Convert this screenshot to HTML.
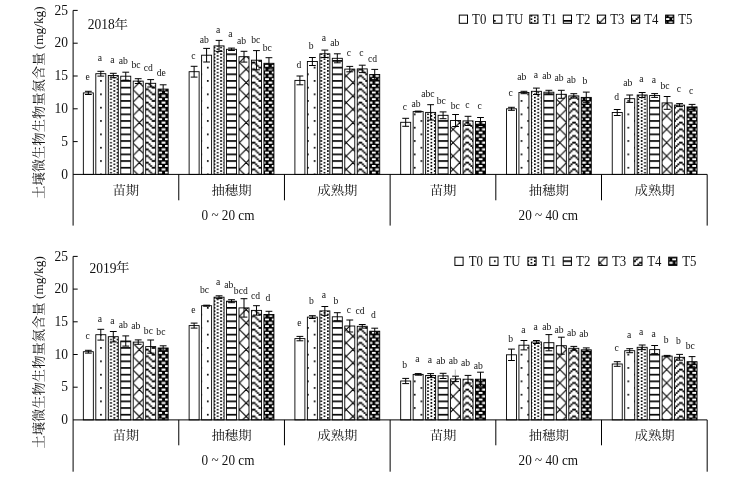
<!DOCTYPE html>
<html lang="zh"><head><meta charset="utf-8"><title>土壤微生物生物量氮含量</title>
<style>html,body{margin:0;padding:0;background:#fff}svg{display:block}text{font-family:"Liberation Serif","Noto Serif CJK SC",serif;fill:#111}.cj{font-family:"Liberation Serif","Noto Serif CJK SC",serif}</style></head><body>
<svg width="744" height="477" viewBox="0 0 744 477">
<rect width="744" height="477" fill="#fff"/>
<defs>
<pattern id="p1" patternUnits="userSpaceOnUse" width="13.35" height="13.35"><rect width="13.35" height="13.35" fill="#fff"/>
<rect x="6.675" y="0" width="1.669" height="1.669" fill="#000"/>
<rect x="0" y="6.675" width="1.669" height="1.669" fill="#000"/>
</pattern>
<pattern id="p2" patternUnits="userSpaceOnUse" width="6.675" height="3.337"><rect width="6.675" height="3.337" fill="#fff"/>
<rect x="0" y="0" width="1.669" height="1.669" fill="#000"/>
<rect x="3.337" y="1.669" width="1.669" height="1.669" fill="#000"/>
</pattern>
<pattern id="p3" patternUnits="userSpaceOnUse" width="13.35" height="6.675"><rect width="13.35" height="6.675" fill="#fff"/>
<rect x="0" y="0" width="13.35" height="1.669" fill="#000"/>
</pattern>
<pattern id="p4" patternUnits="userSpaceOnUse" width="13.35" height="13.35"><rect width="13.35" height="13.35" fill="#fff"/>
<path d="M-2 8.012L15.35 25.362M-2 -5.338L15.35 12.012M-2 -18.688L15.35 -1.338M-2 10.344L15.35 -7.006M-2 23.694L15.35 6.344M-2 37.044L15.35 19.694" stroke="#000" stroke-width="1.15" fill="none"/>
</pattern>
<pattern id="p5" patternUnits="userSpaceOnUse" width="13.35" height="6.675"><rect width="13.35" height="6.675" fill="#fff"/>
<rect x="11.541" y="1.589" width="1.949" height="1.829" fill="#000"/>
<rect x="-0.14" y="1.589" width="1.949" height="1.829" fill="#000"/>
<rect x="1.529" y="3.257" width="1.949" height="1.829" fill="#000"/>
<rect x="9.872" y="3.257" width="1.949" height="1.829" fill="#000"/>
<rect x="3.197" y="4.926" width="1.949" height="1.829" fill="#000"/>
<rect x="8.204" y="4.926" width="1.949" height="1.829" fill="#000"/>
<rect x="4.866" y="-0.08" width="1.949" height="1.829" fill="#000"/>
<rect x="6.535" y="-0.08" width="1.949" height="1.829" fill="#000"/>
<rect x="4.866" y="6.595" width="1.949" height="1.829" fill="#000"/>
<rect x="6.535" y="6.595" width="1.949" height="1.829" fill="#000"/>
<rect x="-1.809" y="1.589" width="1.949" height="1.829" fill="#000"/>
<rect x="13.21" y="1.589" width="1.949" height="1.829" fill="#000"/>
</pattern>
<pattern id="p6" patternUnits="userSpaceOnUse" width="6.675" height="6.675"><rect width="6.675" height="6.675" fill="#000"/>
<rect x="1.419" y="1.469" width="3.837" height="2.069" fill="#fff"/>
<rect x="4.756" y="4.806" width="1.919" height="2.069" fill="#fff"/>
<rect x="0" y="4.806" width="1.919" height="2.069" fill="#fff"/>
</pattern>
</defs>
<g>
<rect x="83.34" y="92.9" width="10" height="81.5" fill="#fff" stroke="#000" stroke-width="0.9"/>
<rect x="95.81" y="73.7" width="10" height="100.7" fill="url(#p1)" stroke="#000" stroke-width="0.9"/>
<rect x="108.28" y="75.5" width="10" height="98.9" fill="url(#p2)" stroke="#000" stroke-width="0.9"/>
<rect x="120.75" y="76.2" width="10" height="98.2" fill="url(#p3)" stroke="#000" stroke-width="0.9"/>
<rect x="133.22" y="81.1" width="10" height="93.3" fill="url(#p4)" stroke="#000" stroke-width="0.9"/>
<rect x="145.69" y="83.3" width="10" height="91.1" fill="url(#p5)" stroke="#000" stroke-width="0.9"/>
<rect x="158.16" y="89.1" width="10" height="85.3" fill="url(#p6)" stroke="#000" stroke-width="0.9"/>
<rect x="189.12" y="71.7" width="10" height="102.7" fill="#fff" stroke="#000" stroke-width="0.9"/>
<rect x="201.59" y="55.2" width="10" height="119.2" fill="url(#p1)" stroke="#000" stroke-width="0.9"/>
<rect x="214.06" y="45.9" width="10" height="128.5" fill="url(#p2)" stroke="#000" stroke-width="0.9"/>
<rect x="226.53" y="49.3" width="10" height="125.1" fill="url(#p3)" stroke="#000" stroke-width="0.9"/>
<rect x="239" y="56.7" width="10" height="117.7" fill="url(#p4)" stroke="#000" stroke-width="0.9"/>
<rect x="251.47" y="60.2" width="10" height="114.2" fill="url(#p5)" stroke="#000" stroke-width="0.9"/>
<rect x="263.94" y="63.3" width="10" height="111.1" fill="url(#p6)" stroke="#000" stroke-width="0.9"/>
<rect x="294.9" y="80.4" width="10" height="94" fill="#fff" stroke="#000" stroke-width="0.9"/>
<rect x="307.37" y="61.5" width="10" height="112.9" fill="url(#p1)" stroke="#000" stroke-width="0.9"/>
<rect x="319.84" y="53.8" width="10" height="120.6" fill="url(#p2)" stroke="#000" stroke-width="0.9"/>
<rect x="332.31" y="58.3" width="10" height="116.1" fill="url(#p3)" stroke="#000" stroke-width="0.9"/>
<rect x="344.78" y="69.1" width="10" height="105.3" fill="url(#p4)" stroke="#000" stroke-width="0.9"/>
<rect x="357.25" y="68.9" width="10" height="105.5" fill="url(#p5)" stroke="#000" stroke-width="0.9"/>
<rect x="369.72" y="74.5" width="10" height="99.9" fill="url(#p6)" stroke="#000" stroke-width="0.9"/>
<rect x="400.68" y="122.3" width="10" height="52.1" fill="#fff" stroke="#000" stroke-width="0.9"/>
<rect x="413.15" y="111.6" width="10" height="62.8" fill="url(#p1)" stroke="#000" stroke-width="0.9"/>
<rect x="425.62" y="112.4" width="10" height="62" fill="url(#p2)" stroke="#000" stroke-width="0.9"/>
<rect x="438.09" y="115.3" width="10" height="59.1" fill="url(#p3)" stroke="#000" stroke-width="0.9"/>
<rect x="450.56" y="120.5" width="10" height="53.9" fill="url(#p4)" stroke="#000" stroke-width="0.9"/>
<rect x="463.03" y="120.9" width="10" height="53.5" fill="url(#p5)" stroke="#000" stroke-width="0.9"/>
<rect x="475.5" y="121.5" width="10" height="52.9" fill="url(#p6)" stroke="#000" stroke-width="0.9"/>
<rect x="506.46" y="108.8" width="10" height="65.6" fill="#fff" stroke="#000" stroke-width="0.9"/>
<rect x="518.93" y="92.5" width="10" height="81.9" fill="url(#p1)" stroke="#000" stroke-width="0.9"/>
<rect x="531.4" y="91.3" width="10" height="83.1" fill="url(#p2)" stroke="#000" stroke-width="0.9"/>
<rect x="543.87" y="92.2" width="10" height="82.2" fill="url(#p3)" stroke="#000" stroke-width="0.9"/>
<rect x="556.34" y="94.3" width="10" height="80.1" fill="url(#p4)" stroke="#000" stroke-width="0.9"/>
<rect x="568.81" y="95.9" width="10" height="78.5" fill="url(#p5)" stroke="#000" stroke-width="0.9"/>
<rect x="581.28" y="97.4" width="10" height="77" fill="url(#p6)" stroke="#000" stroke-width="0.9"/>
<rect x="612.24" y="112.5" width="10" height="61.9" fill="#fff" stroke="#000" stroke-width="0.9"/>
<rect x="624.71" y="98.7" width="10" height="75.7" fill="url(#p1)" stroke="#000" stroke-width="0.9"/>
<rect x="637.18" y="95" width="10" height="79.4" fill="url(#p2)" stroke="#000" stroke-width="0.9"/>
<rect x="649.65" y="95.5" width="10" height="78.9" fill="url(#p3)" stroke="#000" stroke-width="0.9"/>
<rect x="662.12" y="102.9" width="10" height="71.5" fill="url(#p4)" stroke="#000" stroke-width="0.9"/>
<rect x="674.59" y="105.1" width="10" height="69.3" fill="url(#p5)" stroke="#000" stroke-width="0.9"/>
<rect x="687.06" y="106.9" width="10" height="67.5" fill="url(#p6)" stroke="#000" stroke-width="0.9"/>
<path d="M88.34 91.3V94.5M84.94 91.3H91.74M84.94 94.5H91.74M100.81 71.3V76.1M97.41 71.3H104.21M97.41 76.1H104.21M113.28 73.3V77.7M109.88 73.3H116.68M109.88 77.7H116.68M125.75 72.2V80.2M122.35 72.2H129.15M122.35 80.2H129.15M138.22 78.7V83.5M134.82 78.7H141.62M134.82 83.5H141.62M150.69 79.6V87M147.29 79.6H154.09M147.29 87H154.09M163.16 84.8V93.4M159.76 84.8H166.56M159.76 93.4H166.56M194.12 66.3V77.1M190.72 66.3H197.52M190.72 77.1H197.52M206.59 48.4V62M203.19 48.4H209.99M203.19 62H209.99M219.06 40.4V51.4M215.66 40.4H222.46M215.66 51.4H222.46M231.53 48.1V50.5M228.13 48.1H234.93M228.13 50.5H234.93M244 51.3V62.1M240.6 51.3H247.4M240.6 62.1H247.4M256.47 50.6V69.8M253.07 50.6H259.87M253.07 69.8H259.87M268.94 57.7V68.9M265.54 57.7H272.34M265.54 68.9H272.34M299.9 76V84.8M296.5 76H303.3M296.5 84.8H303.3M312.37 57.5V65.5M308.97 57.5H315.77M308.97 65.5H315.77M324.84 50.1V57.5M321.44 50.1H328.24M321.44 57.5H328.24M337.31 53.8V62.8M333.91 53.8H340.71M333.91 62.8H340.71M349.78 66.4V71.8M346.38 66.4H353.18M346.38 71.8H353.18M362.25 65.2V72.6M358.85 65.2H365.65M358.85 72.6H365.65M374.72 69.4V79.6M371.32 69.4H378.12M371.32 79.6H378.12M405.68 118.3V126.3M402.28 118.3H409.08M402.28 126.3H409.08M418.15 111.1V112.1M414.75 111.1H421.55M414.75 112.1H421.55M430.62 104.7V120.1M427.22 104.7H434.02M427.22 120.1H434.02M443.09 111.9V118.7M439.69 111.9H446.49M439.69 118.7H446.49M455.56 114.5V126.5M452.16 114.5H458.96M452.16 126.5H458.96M468.03 116.3V125.5M464.63 116.3H471.43M464.63 125.5H471.43M480.5 117.5V125.5M477.1 117.5H483.9M477.1 125.5H483.9M511.46 107.3V110.3M508.06 107.3H514.86M508.06 110.3H514.86M523.93 91.3V93.7M520.53 91.3H527.33M520.53 93.7H527.33M536.4 88.1V94.5M533 88.1H539.8M533 94.5H539.8M548.87 90.3V94.1M545.47 90.3H552.27M545.47 94.1H552.27M561.34 90.3V98.3M557.94 90.3H564.74M557.94 98.3H564.74M573.81 93.7V98.1M570.41 93.7H577.21M570.41 98.1H577.21M586.28 92.1V102.7M582.88 92.1H589.68M582.88 102.7H589.68M617.24 109.5V115.5M613.84 109.5H620.64M613.84 115.5H620.64M629.71 95V102.4M626.31 95H633.11M626.31 102.4H633.11M642.18 92.5V97.5M638.78 92.5H645.58M638.78 97.5H645.58M654.65 93.6V97.4M651.25 93.6H658.05M651.25 97.4H658.05M667.12 96.5V109.3M663.72 96.5H670.52M663.72 109.3H670.52M679.59 103.6V106.6M676.19 103.6H682.99M676.19 106.6H682.99M692.06 104.4V109.4M688.66 104.4H695.46M688.66 109.4H695.46" stroke="#000" stroke-width="1" fill="none"/>
<path d="M73.1 10.4V225.6M73.1 174.4H707.18M73.1 10.4H77.7M73.1 43.2H77.7M73.1 76H77.7M73.1 108.8H77.7M73.1 141.6H77.7M178.78 174.4V200.3M284.46 174.4V200.3M390.14 174.4V225.6M495.82 174.4V200.3M601.5 174.4V200.3M707.18 174.4V225.6" stroke="#000" stroke-width="1" fill="none"/>
<text transform="translate(68 14.6) scale(1.080 1.120)" font-size="12.5" text-anchor="end">25</text>
<text transform="translate(68 47.4) scale(1.080 1.120)" font-size="12.5" text-anchor="end">20</text>
<text transform="translate(68 80.2) scale(1.080 1.120)" font-size="12.5" text-anchor="end">15</text>
<text transform="translate(68 113) scale(1.080 1.120)" font-size="12.5" text-anchor="end">10</text>
<text transform="translate(68 145.8) scale(1.080 1.120)" font-size="12.5" text-anchor="end">5</text>
<text transform="translate(68 178.6) scale(1.080 1.120)" font-size="12.5" text-anchor="end">0</text>
<text class="cj" transform="translate(43.4 102.6) rotate(-90) scale(1 0.95)" font-size="13.3" text-anchor="middle">土壤微生物生物量氮含量 (mg/kg)</text>
<text transform="translate(87.8 28.9) scale(1.000 1.090)" font-size="13.5">2018</text>
<text class="cj" transform="translate(114.4 28.7) scale(1.000 0.920)" font-size="13.5">年</text>
<text x="87.7" y="80.1" font-size="9.6" text-anchor="middle">e</text>
<text x="100" y="60.9" font-size="9.6" text-anchor="middle">a</text>
<text x="112.4" y="62.7" font-size="9.6" text-anchor="middle">a</text>
<text x="123.2" y="63.9" font-size="9.6" text-anchor="middle">ab</text>
<text x="136.1" y="68.1" font-size="9.6" text-anchor="middle">bc</text>
<text x="148.4" y="71.1" font-size="9.6" text-anchor="middle">cd</text>
<text x="161.2" y="76.4" font-size="9.6" text-anchor="middle">de</text>
<text x="193.3" y="59.2" font-size="9.6" text-anchor="middle">c</text>
<text x="204.4" y="42.7" font-size="9.6" text-anchor="middle">ab</text>
<text x="218.1" y="33.1" font-size="9.6" text-anchor="middle">a</text>
<text x="230.4" y="37.2" font-size="9.6" text-anchor="middle">a</text>
<text x="241.5" y="44.2" font-size="9.6" text-anchor="middle">ab</text>
<text x="255.8" y="43.1" font-size="9.6" text-anchor="middle">bc</text>
<text x="267.2" y="50.8" font-size="9.6" text-anchor="middle">bc</text>
<text x="299" y="67.6" font-size="9.6" text-anchor="middle">d</text>
<text x="311.1" y="48.9" font-size="9.6" text-anchor="middle">b</text>
<text x="323.8" y="41" font-size="9.6" text-anchor="middle">a</text>
<text x="334.9" y="45.5" font-size="9.6" text-anchor="middle">ab</text>
<text x="348.8" y="56.3" font-size="9.6" text-anchor="middle">c</text>
<text x="361.4" y="56.3" font-size="9.6" text-anchor="middle">c</text>
<text x="372.5" y="61.7" font-size="9.6" text-anchor="middle">cd</text>
<text x="405" y="109.5" font-size="9.6" text-anchor="middle">c</text>
<text x="416.1" y="106.9" font-size="9.6" text-anchor="middle">ab</text>
<text x="427.9" y="96.6" font-size="9.6" text-anchor="middle">abc</text>
<text x="441.2" y="104" font-size="9.6" text-anchor="middle">bc</text>
<text x="455.3" y="109.2" font-size="9.6" text-anchor="middle">bc</text>
<text x="467.4" y="108" font-size="9.6" text-anchor="middle">c</text>
<text x="479.7" y="108.7" font-size="9.6" text-anchor="middle">c</text>
<text x="510.7" y="96" font-size="9.6" text-anchor="middle">c</text>
<text x="521.8" y="79.7" font-size="9.6" text-anchor="middle">ab</text>
<text x="535.8" y="78.2" font-size="9.6" text-anchor="middle">a</text>
<text x="546.8" y="79" font-size="9.6" text-anchor="middle">ab</text>
<text x="559" y="80.8" font-size="9.6" text-anchor="middle">ab</text>
<text x="571.3" y="83.4" font-size="9.6" text-anchor="middle">ab</text>
<text x="584.9" y="84.2" font-size="9.6" text-anchor="middle">b</text>
<text x="616.6" y="99.7" font-size="9.6" text-anchor="middle">d</text>
<text x="627.8" y="85.6" font-size="9.6" text-anchor="middle">ab</text>
<text x="641.4" y="81.9" font-size="9.6" text-anchor="middle">a</text>
<text x="654" y="82.7" font-size="9.6" text-anchor="middle">a</text>
<text x="665" y="89" font-size="9.6" text-anchor="middle">bc</text>
<text x="678.8" y="92.3" font-size="9.6" text-anchor="middle">c</text>
<text x="691.2" y="93.8" font-size="9.6" text-anchor="middle">c</text>
<text class="cj" transform="translate(125.75 194.6) scale(1.030 0.940)" font-size="13" text-anchor="middle">苗期</text>
<text class="cj" transform="translate(231.53 194.6) scale(1.030 0.940)" font-size="13" text-anchor="middle">抽穗期</text>
<text class="cj" transform="translate(337.31 194.6) scale(1.030 0.940)" font-size="13" text-anchor="middle">成熟期</text>
<text class="cj" transform="translate(443.09 194.6) scale(1.030 0.940)" font-size="13" text-anchor="middle">苗期</text>
<text class="cj" transform="translate(548.87 194.6) scale(1.030 0.940)" font-size="13" text-anchor="middle">抽穗期</text>
<text class="cj" transform="translate(654.65 194.6) scale(1.030 0.940)" font-size="13" text-anchor="middle">成熟期</text>
<text transform="translate(228 219.6) scale(1.015 1.070)" font-size="13" text-anchor="middle">0 ~ 20 cm</text>
<text transform="translate(548.3 219.6) scale(1.015 1.070)" font-size="13" text-anchor="middle">20 ~ 40 cm</text>
<rect x="459.3" y="15.1" width="8.2" height="8.2" fill="#fff" stroke="#000" stroke-width="1"/>
<text transform="translate(472.1 23.7) scale(0.985 1.090)" font-size="13">T0</text>
<rect x="493.6" y="15.1" width="8.2" height="8.2" fill="url(#p1)" stroke="#000" stroke-width="1"/>
<text transform="translate(506.1 23.7) scale(0.985 1.090)" font-size="13">TU</text>
<rect x="529.8" y="15.1" width="8.2" height="8.2" fill="url(#p2)" stroke="#000" stroke-width="1"/>
<text transform="translate(542.5 23.7) scale(0.985 1.090)" font-size="13">T1</text>
<rect x="563.3" y="15.1" width="8.2" height="8.2" fill="url(#p3)" stroke="#000" stroke-width="1"/>
<text transform="translate(576.1 23.7) scale(0.985 1.090)" font-size="13">T2</text>
<rect x="597.4" y="15.1" width="8.2" height="8.2" fill="url(#p4)" stroke="#000" stroke-width="1"/>
<text transform="translate(610.2 23.7) scale(0.985 1.090)" font-size="13">T3</text>
<rect x="631.5" y="15.1" width="8.2" height="8.2" fill="url(#p5)" stroke="#000" stroke-width="1"/>
<text transform="translate(644.3 23.7) scale(0.985 1.090)" font-size="13">T4</text>
<rect x="665.6" y="15.1" width="8.2" height="8.2" fill="url(#p6)" stroke="#000" stroke-width="1"/>
<text transform="translate(678.3 23.7) scale(0.985 1.090)" font-size="13">T5</text>
</g>
<g>
<rect x="83.34" y="351.7" width="10" height="68.2" fill="#fff" stroke="#000" stroke-width="0.9"/>
<rect x="95.81" y="334.7" width="10" height="85.2" fill="url(#p1)" stroke="#000" stroke-width="0.9"/>
<rect x="108.28" y="336.7" width="10" height="83.2" fill="url(#p2)" stroke="#000" stroke-width="0.9"/>
<rect x="120.75" y="341" width="10" height="78.9" fill="url(#p3)" stroke="#000" stroke-width="0.9"/>
<rect x="133.22" y="342.1" width="10" height="77.8" fill="url(#p4)" stroke="#000" stroke-width="0.9"/>
<rect x="145.69" y="346.6" width="10" height="73.3" fill="url(#p5)" stroke="#000" stroke-width="0.9"/>
<rect x="158.16" y="348" width="10" height="71.9" fill="url(#p6)" stroke="#000" stroke-width="0.9"/>
<rect x="189.12" y="325.6" width="10" height="94.3" fill="#fff" stroke="#000" stroke-width="0.9"/>
<rect x="201.59" y="305.7" width="10" height="114.2" fill="url(#p1)" stroke="#000" stroke-width="0.9"/>
<rect x="214.06" y="297.2" width="10" height="122.7" fill="url(#p2)" stroke="#000" stroke-width="0.9"/>
<rect x="226.53" y="301.2" width="10" height="118.7" fill="url(#p3)" stroke="#000" stroke-width="0.9"/>
<rect x="239" y="307.9" width="10" height="112" fill="url(#p4)" stroke="#000" stroke-width="0.9"/>
<rect x="251.47" y="310.4" width="10" height="109.5" fill="url(#p5)" stroke="#000" stroke-width="0.9"/>
<rect x="263.94" y="314.5" width="10" height="105.4" fill="url(#p6)" stroke="#000" stroke-width="0.9"/>
<rect x="294.9" y="338.6" width="10" height="81.3" fill="#fff" stroke="#000" stroke-width="0.9"/>
<rect x="307.37" y="317.1" width="10" height="102.8" fill="url(#p1)" stroke="#000" stroke-width="0.9"/>
<rect x="319.84" y="310.9" width="10" height="109" fill="url(#p2)" stroke="#000" stroke-width="0.9"/>
<rect x="332.31" y="316.8" width="10" height="103.1" fill="url(#p3)" stroke="#000" stroke-width="0.9"/>
<rect x="344.78" y="326" width="10" height="93.9" fill="url(#p4)" stroke="#000" stroke-width="0.9"/>
<rect x="357.25" y="326.3" width="10" height="93.6" fill="url(#p5)" stroke="#000" stroke-width="0.9"/>
<rect x="369.72" y="331.2" width="10" height="88.7" fill="url(#p6)" stroke="#000" stroke-width="0.9"/>
<rect x="400.68" y="381" width="10" height="38.9" fill="#fff" stroke="#000" stroke-width="0.9"/>
<rect x="413.15" y="374.4" width="10" height="45.5" fill="url(#p1)" stroke="#000" stroke-width="0.9"/>
<rect x="425.62" y="375.5" width="10" height="44.4" fill="url(#p2)" stroke="#000" stroke-width="0.9"/>
<rect x="438.09" y="375.9" width="10" height="44" fill="url(#p3)" stroke="#000" stroke-width="0.9"/>
<rect x="450.56" y="378.9" width="10" height="41" fill="url(#p4)" stroke="#000" stroke-width="0.9"/>
<rect x="463.03" y="379.2" width="10" height="40.7" fill="url(#p5)" stroke="#000" stroke-width="0.9"/>
<rect x="475.5" y="379.2" width="10" height="40.7" fill="url(#p6)" stroke="#000" stroke-width="0.9"/>
<rect x="506.46" y="354.8" width="10" height="65.1" fill="#fff" stroke="#000" stroke-width="0.9"/>
<rect x="518.93" y="345.2" width="10" height="74.7" fill="url(#p1)" stroke="#000" stroke-width="0.9"/>
<rect x="531.4" y="342" width="10" height="77.9" fill="url(#p2)" stroke="#000" stroke-width="0.9"/>
<rect x="543.87" y="342.7" width="10" height="77.2" fill="url(#p3)" stroke="#000" stroke-width="0.9"/>
<rect x="556.34" y="345.7" width="10" height="74.2" fill="url(#p4)" stroke="#000" stroke-width="0.9"/>
<rect x="568.81" y="348.3" width="10" height="71.6" fill="url(#p5)" stroke="#000" stroke-width="0.9"/>
<rect x="581.28" y="349.8" width="10" height="70.1" fill="url(#p6)" stroke="#000" stroke-width="0.9"/>
<rect x="612.24" y="364" width="10" height="55.9" fill="#fff" stroke="#000" stroke-width="0.9"/>
<rect x="624.71" y="350.7" width="10" height="69.2" fill="url(#p1)" stroke="#000" stroke-width="0.9"/>
<rect x="637.18" y="347.3" width="10" height="72.6" fill="url(#p2)" stroke="#000" stroke-width="0.9"/>
<rect x="649.65" y="349.6" width="10" height="70.3" fill="url(#p3)" stroke="#000" stroke-width="0.9"/>
<rect x="662.12" y="356.1" width="10" height="63.8" fill="url(#p4)" stroke="#000" stroke-width="0.9"/>
<rect x="674.59" y="357.3" width="10" height="62.6" fill="url(#p5)" stroke="#000" stroke-width="0.9"/>
<rect x="687.06" y="361.7" width="10" height="58.2" fill="url(#p6)" stroke="#000" stroke-width="0.9"/>
<path d="M88.34 350.3V353.1M84.94 350.3H91.74M84.94 353.1H91.74M100.81 329.3V340.1M97.41 329.3H104.21M97.41 340.1H104.21M113.28 331.5V341.9M109.88 331.5H116.68M109.88 341.9H116.68M125.75 335.9V346.1M122.35 335.9H129.15M122.35 346.1H129.15M138.22 339.9V344.3M134.82 339.9H141.62M134.82 344.3H141.62M150.69 340V353.2M147.29 340H154.09M147.29 353.2H154.09M163.16 345.8V350.2M159.76 345.8H166.56M159.76 350.2H166.56M194.12 323.1V328.1M190.72 323.1H197.52M190.72 328.1H197.52M206.59 305.2V306.2M203.19 305.2H209.99M203.19 306.2H209.99M219.06 295.8V298.6M215.66 295.8H222.46M215.66 298.6H222.46M231.53 299.7V302.7M228.13 299.7H234.93M228.13 302.7H234.93M244 298.7V317.1M240.6 298.7H247.4M240.6 317.1H247.4M256.47 305.7V315.1M253.07 305.7H259.87M253.07 315.1H259.87M268.94 311.3V317.7M265.54 311.3H272.34M265.54 317.7H272.34M299.9 336.4V340.8M296.5 336.4H303.3M296.5 340.8H303.3M312.37 315.7V318.5M308.97 315.7H315.77M308.97 318.5H315.77M324.84 306.5V315.3M321.44 306.5H328.24M321.44 315.3H328.24M337.31 312.7V320.9M333.91 312.7H340.71M333.91 320.9H340.71M349.78 320V332M346.38 320H353.18M346.38 332H353.18M362.25 324.5V328.1M358.85 324.5H365.65M358.85 328.1H365.65M374.72 328.2V334.2M371.32 328.2H378.12M371.32 334.2H378.12M405.68 378.4V383.6M402.28 378.4H409.08M402.28 383.6H409.08M418.15 373.6V375.2M414.75 373.6H421.55M414.75 375.2H421.55M430.62 373.6V377.4M427.22 373.6H434.02M427.22 377.4H434.02M443.09 373.3V378.5M439.69 373.3H446.49M439.69 378.5H446.49M455.56 376.2V381.6M452.16 376.2H458.96M452.16 381.6H458.96M468.03 375.4V383M464.63 375.4H471.43M464.63 383H471.43M480.5 372.2V386.2M477.1 372.2H483.9M477.1 386.2H483.9M511.46 349.1V360.5M508.06 349.1H514.86M508.06 360.5H514.86M523.93 340.5V349.9M520.53 340.5H527.33M520.53 349.9H527.33M536.4 340.5V343.5M533 340.5H539.8M533 343.5H539.8M548.87 334.6V350.8M545.47 334.6H552.27M545.47 350.8H552.27M561.34 337.2V354.2M557.94 337.2H564.74M557.94 354.2H564.74M573.81 346.4V350.2M570.41 346.4H577.21M570.41 350.2H577.21M586.28 347.9V351.7M582.88 347.9H589.68M582.88 351.7H589.68M617.24 361.7V366.3M613.84 361.7H620.64M613.84 366.3H620.64M629.71 348.7V352.7M626.31 348.7H633.11M626.31 352.7H633.11M642.18 345V349.6M638.78 345H645.58M638.78 349.6H645.58M654.65 345.5V353.7M651.25 345.5H658.05M651.25 353.7H658.05M667.12 355.4V356.8M663.72 355.4H670.52M663.72 356.8H670.52M679.59 354.4V360.2M676.19 354.4H682.99M676.19 360.2H682.99M692.06 356.6V366.8M688.66 356.6H695.46M688.66 366.8H695.46" stroke="#000" stroke-width="1" fill="none"/>
<path d="M73.1 256.4V471.7M73.1 419.9H707.18M73.1 256.4H77.7M73.1 289.1H77.7M73.1 321.8H77.7M73.1 354.5H77.7M73.1 387.2H77.7M178.78 419.9V445.3M284.46 419.9V445.3M390.14 419.9V471.7M495.82 419.9V445.3M601.5 419.9V445.3M707.18 419.9V471.7" stroke="#000" stroke-width="1" fill="none"/>
<text transform="translate(68 260.6) scale(1.080 1.120)" font-size="12.5" text-anchor="end">25</text>
<text transform="translate(68 293.3) scale(1.080 1.120)" font-size="12.5" text-anchor="end">20</text>
<text transform="translate(68 326) scale(1.080 1.120)" font-size="12.5" text-anchor="end">15</text>
<text transform="translate(68 358.7) scale(1.080 1.120)" font-size="12.5" text-anchor="end">10</text>
<text transform="translate(68 391.4) scale(1.080 1.120)" font-size="12.5" text-anchor="end">5</text>
<text transform="translate(68 424.1) scale(1.080 1.120)" font-size="12.5" text-anchor="end">0</text>
<text class="cj" transform="translate(43.4 352.4) rotate(-90) scale(1 0.95)" font-size="13.3" text-anchor="middle">土壤微生物生物量氮含量 (mg/kg)</text>
<text transform="translate(89.5 272.6) scale(1.000 1.090)" font-size="13.5">2019</text>
<text class="cj" transform="translate(116.1 272.4) scale(1.000 0.920)" font-size="13.5">年</text>
<text x="87.7" y="339.2" font-size="9.6" text-anchor="middle">c</text>
<text x="100" y="321.9" font-size="9.6" text-anchor="middle">a</text>
<text x="112.4" y="324.2" font-size="9.6" text-anchor="middle">a</text>
<text x="123.2" y="328.1" font-size="9.6" text-anchor="middle">ab</text>
<text x="135.8" y="329" font-size="9.6" text-anchor="middle">ab</text>
<text x="148.4" y="333.5" font-size="9.6" text-anchor="middle">bc</text>
<text x="160.9" y="335.2" font-size="9.6" text-anchor="middle">bc</text>
<text x="193.3" y="312.8" font-size="9.6" text-anchor="middle">e</text>
<text x="204.5" y="292.9" font-size="9.6" text-anchor="middle">bc</text>
<text x="218.1" y="284.7" font-size="9.6" text-anchor="middle">a</text>
<text x="228.9" y="288.4" font-size="9.6" text-anchor="middle">ab</text>
<text x="240.8" y="294.3" font-size="9.6" text-anchor="middle">bcd</text>
<text x="255.5" y="298.5" font-size="9.6" text-anchor="middle">cd</text>
<text x="268" y="301" font-size="9.6" text-anchor="middle">d</text>
<text x="299.3" y="325.5" font-size="9.6" text-anchor="middle">e</text>
<text x="311.3" y="303.6" font-size="9.6" text-anchor="middle">b</text>
<text x="323.8" y="298" font-size="9.6" text-anchor="middle">a</text>
<text x="336" y="303.6" font-size="9.6" text-anchor="middle">b</text>
<text x="348.8" y="312.5" font-size="9.6" text-anchor="middle">c</text>
<text x="360.1" y="313.6" font-size="9.6" text-anchor="middle">cd</text>
<text x="373.4" y="318.4" font-size="9.6" text-anchor="middle">d</text>
<text x="404.7" y="367.9" font-size="9.6" text-anchor="middle">b</text>
<text x="417.3" y="361.9" font-size="9.6" text-anchor="middle">a</text>
<text x="429.8" y="362.7" font-size="9.6" text-anchor="middle">a</text>
<text x="440.8" y="363.7" font-size="9.6" text-anchor="middle">ab</text>
<text x="453.3" y="363.7" font-size="9.6" text-anchor="middle">ab</text>
<text x="465.6" y="365.6" font-size="9.6" text-anchor="middle">ab</text>
<text x="478.2" y="368.9" font-size="9.6" text-anchor="middle">ab</text>
<text x="510.6" y="341.7" font-size="9.6" text-anchor="middle">b</text>
<text x="523.3" y="332.6" font-size="9.6" text-anchor="middle">a</text>
<text x="535.7" y="329.6" font-size="9.6" text-anchor="middle">a</text>
<text x="546.8" y="329.6" font-size="9.6" text-anchor="middle">ab</text>
<text x="559" y="332.9" font-size="9.6" text-anchor="middle">ab</text>
<text x="571.6" y="335.8" font-size="9.6" text-anchor="middle">ab</text>
<text x="583.9" y="337" font-size="9.6" text-anchor="middle">ab</text>
<text x="616.7" y="351.2" font-size="9.6" text-anchor="middle">c</text>
<text x="629.1" y="337.9" font-size="9.6" text-anchor="middle">a</text>
<text x="641.1" y="334.9" font-size="9.6" text-anchor="middle">a</text>
<text x="653.7" y="337.1" font-size="9.6" text-anchor="middle">a</text>
<text x="666.1" y="343.3" font-size="9.6" text-anchor="middle">b</text>
<text x="678.4" y="343.8" font-size="9.6" text-anchor="middle">b</text>
<text x="690.2" y="348.9" font-size="9.6" text-anchor="middle">bc</text>
<text class="cj" transform="translate(125.75 440.1) scale(1.030 0.940)" font-size="13" text-anchor="middle">苗期</text>
<text class="cj" transform="translate(231.53 440.1) scale(1.030 0.940)" font-size="13" text-anchor="middle">抽穗期</text>
<text class="cj" transform="translate(337.31 440.1) scale(1.030 0.940)" font-size="13" text-anchor="middle">成熟期</text>
<text class="cj" transform="translate(443.09 440.1) scale(1.030 0.940)" font-size="13" text-anchor="middle">苗期</text>
<text class="cj" transform="translate(548.87 440.1) scale(1.030 0.940)" font-size="13" text-anchor="middle">抽穗期</text>
<text class="cj" transform="translate(654.65 440.1) scale(1.030 0.940)" font-size="13" text-anchor="middle">成熟期</text>
<text transform="translate(228 465.1) scale(1.015 1.070)" font-size="13" text-anchor="middle">0 ~ 20 cm</text>
<text transform="translate(548.3 465.1) scale(1.015 1.070)" font-size="13" text-anchor="middle">20 ~ 40 cm</text>
<rect x="454.9" y="257.2" width="8.2" height="8.2" fill="#fff" stroke="#000" stroke-width="1"/>
<text transform="translate(468.8 265.7) scale(0.985 1.090)" font-size="13">T0</text>
<rect x="489.8" y="257.2" width="8.2" height="8.2" fill="url(#p1)" stroke="#000" stroke-width="1"/>
<text transform="translate(503.4 265.7) scale(0.985 1.090)" font-size="13">TU</text>
<rect x="527.9" y="257.2" width="8.2" height="8.2" fill="url(#p2)" stroke="#000" stroke-width="1"/>
<text transform="translate(541.7 265.7) scale(0.985 1.090)" font-size="13">T1</text>
<rect x="563.2" y="257.2" width="8.2" height="8.2" fill="url(#p3)" stroke="#000" stroke-width="1"/>
<text transform="translate(576.1 265.7) scale(0.985 1.090)" font-size="13">T2</text>
<rect x="598.8" y="257.2" width="8.2" height="8.2" fill="url(#p4)" stroke="#000" stroke-width="1"/>
<text transform="translate(611.9 265.7) scale(0.985 1.090)" font-size="13">T3</text>
<rect x="633.8" y="257.2" width="8.2" height="8.2" fill="url(#p5)" stroke="#000" stroke-width="1"/>
<text transform="translate(647.2 265.7) scale(0.985 1.090)" font-size="13">T4</text>
<rect x="668.7" y="257.2" width="8.2" height="8.2" fill="url(#p6)" stroke="#000" stroke-width="1"/>
<text transform="translate(682.2 265.7) scale(0.985 1.090)" font-size="13">T5</text>
<path d="M455.3 369.6V376.2" stroke="#999" stroke-width="0.7" fill="none"/>
</g>
</svg></body></html>
